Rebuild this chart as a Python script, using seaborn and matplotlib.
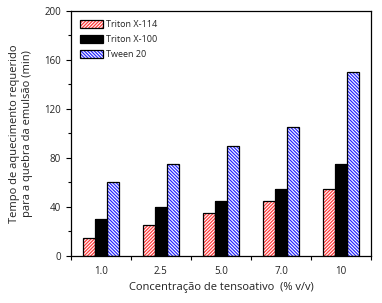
import numpy as np
import pandas as pd
import matplotlib
matplotlib.use("Agg")
import matplotlib.pyplot as plt
from matplotlib.patches import Patch
from matplotlib.ticker import MultipleLocator, FixedLocator
import seaborn as sns

# datos
concentracoes = ["1.0", "2.5", "5.0", "7.0", "10"]
series = ["Triton X-114", "Triton X-100", "Tween 20"]
triton_x114 = [15, 25, 35, 45, 55]
triton_x100 = [30, 40, 45, 55, 75]
tween_20 = [60, 75, 90, 105, 150]

df = pd.DataFrame({
    "conc": concentracoes * 3,
    "serie": np.repeat(series, len(concentracoes)),
    "tempo": triton_x114 + triton_x100 + tween_20,
})

sns.set_style("ticks")
plt.rcParams["font.family"] = ["Open Sans", "DejaVu Sans"]
plt.rcParams["hatch.linewidth"] = 0.9
plt.rcParams["text.color"] = "#222222"
plt.rcParams["axes.labelcolor"] = "#222222"
plt.rcParams["xtick.color"] = "black"
plt.rcParams["ytick.color"] = "black"
plt.rcParams["xtick.labelcolor"] = "#222222"
plt.rcParams["ytick.labelcolor"] = "#222222"

fig, ax = plt.subplots(figsize=(3.82, 3.03), dpi=100)

face = {"Triton X-114": "white", "Triton X-100": "black", "Tween 20": "white"}
hatch_col = {"Triton X-114": "#ff3a3a", "Triton X-100": "black", "Tween 20": "#2a2aff"}
hatches = {"Triton X-114": "/" * 10, "Triton X-100": "", "Tween 20": "\\" * 10}

# capa 1: relleno + rayado de color
sns.barplot(data=df, x="conc", y="tempo", hue="serie", hue_order=series,
            palette=face, width=0.6, gap=0, saturation=1, errorbar=None,
            legend=False, ax=ax)
n = len(concentracoes)
for i, p in enumerate(ax.patches[: n * len(series)]):
    s = series[i // n]
    p.set_hatch(hatches[s])
    p.set_edgecolor(hatch_col[s])
    p.set_linewidth(0)

# capa 2: contorno negro
sns.barplot(data=df, x="conc", y="tempo", hue="serie", hue_order=series,
            fill=False, color="black", width=0.6, gap=0, errorbar=None,
            legend=False, ax=ax, linewidth=0.9)
for p in ax.patches[n * len(series):]:
    p.set_edgecolor("black")
    p.set_linewidth(0.9)

ax.set_xlim(-0.5, 4.5)
ax.set_ylim(0, 200)
ax.yaxis.set_major_locator(MultipleLocator(40))
ax.yaxis.set_minor_locator(MultipleLocator(20))
ax.xaxis.set_minor_locator(FixedLocator(np.arange(-0.5, 5, 1)))
ax.tick_params(axis="x", which="major", length=0, labelsize=7, pad=7)
ax.tick_params(axis="x", which="minor", length=3, width=0.8)
ax.tick_params(axis="y", which="major", length=3.5, width=0.8, labelsize=7)
ax.tick_params(axis="y", which="minor", length=2, width=0.8)
for sp in ax.spines.values():
    sp.set_visible(True)
    sp.set_linewidth(0.9)
    sp.set_color("black")

ax.set_xlabel("Concentração de tensoativo  (% v/v)", fontsize=8, labelpad=4)
ax.set_ylabel("Tempo de aquecimento requerido\npara a quebra da emulsão (min)",
              fontsize=8, labelpad=8)

handles = []
for s in series:
    h1 = Patch(facecolor=face[s], edgecolor=hatch_col[s], hatch=hatches[s], linewidth=0)
    h2 = Patch(facecolor="none", edgecolor="black", linewidth=0.9)
    handles.append((h1, h2))
ax.legend(handles, series, loc="upper left", frameon=False, fontsize=6.5,
          handlelength=2.6, handleheight=1.0, labelspacing=0.65,
          borderaxespad=0.6, handletextpad=0.3)

fig.subplots_adjust(left=0.185, right=0.972, top=0.965, bottom=0.155)
fig.savefig("out.png", dpi=100)
